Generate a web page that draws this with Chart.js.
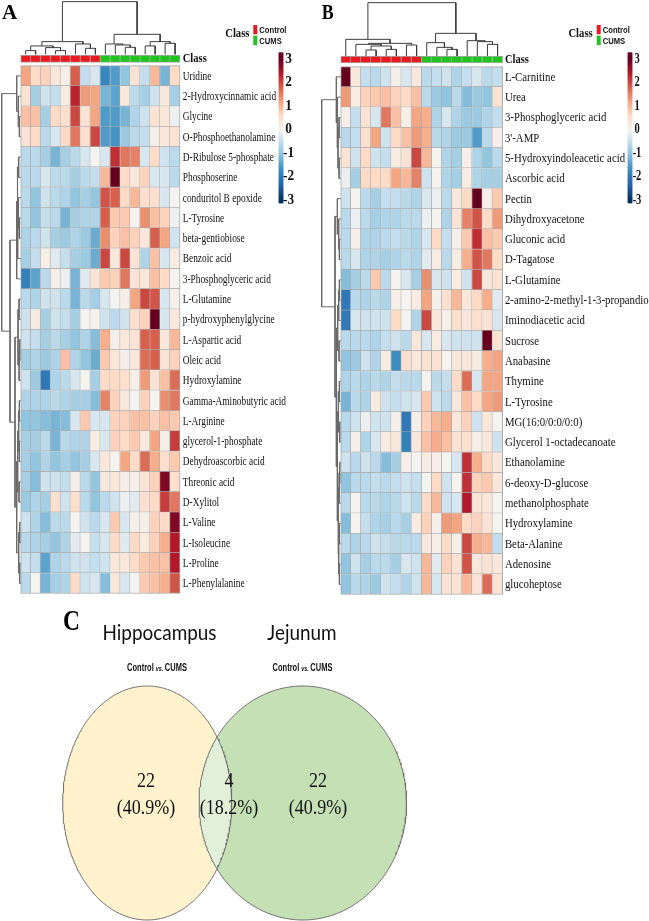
<!DOCTYPE html>
<html><head><meta charset="utf-8">
<script src="https://cdn.jsdelivr.net/npm/chart.js@4.4.1/dist/chart.umd.min.js"></script>
<style>
html,body{margin:0;padding:0;background:#fff;}
#wrap{position:relative;width:649px;height:921px;overflow:hidden;background:#fff;}
canvas{position:absolute;}
</style></head><body>
<div id="wrap">
<canvas id="cA" width="320" height="600" style="left:0;top:0;width:320px;height:600px"></canvas>
<canvas id="cB" width="329" height="600" style="left:320px;top:0;width:329px;height:600px"></canvas>
<canvas id="cC" width="649" height="321" style="left:0;top:600px;width:649px;height:321px"></canvas>
</div>
<script>
// ---------------- DATA ----------------
const GROUPS = ['Control', 'CUMS'];
const SAMPLE_CLASS = ['Control','Control','Control','Control','Control','Control','Control','Control',
                      'CUMS','CUMS','CUMS','CUMS','CUMS','CUMS','CUMS','CUMS'];
const COLORBAR_TICKS = [3, 2, 1, 0, -1, -2, -3];

const A_ROWS = ['Uridine','2-Hydroxycinnamic acid','Glycine','O-Phosphoethanolamine','D-Ribulose 5-phosphate',
  'Phosphoserine','conduritol B epoxide','L-Tyrosine','beta-gentiobiose','Benzoic acid','3-Phosphoglyceric acid',
  'L-Glutamine','p-hydroxyphenylglycine','L-Aspartic acid','Oleic acid','Hydroxylamine','Gamma-Aminobutyric acid',
  'L-Arginine','glycerol-1-phosphate','Dehydroascorbic acid','Threonic acid','D-Xylitol','L-Valine','L-Isoleucine',
  'L-Proline','L-Phenylalanine'];
const A_VALUES = [
  [1.2,0.6,0.7,0.3,0.1,1.8,-0.5,-0.3,-1.8,-1.5,-1.0,0.4,-0.5,1.0,-1.2,0.6],
  [0.4,-0.8,-0.4,-0.5,0.2,2.3,1.3,1.2,-1.2,-1.4,0.3,-0.6,-0.8,-0.4,0.3,-0.8],
  [0.9,0.9,-0.8,0.6,0.5,2.0,0.4,1.2,-1.5,-1.5,-1.2,-0.7,-0.4,0.4,0.3,-0.1],
  [0.4,0.6,-0.6,-0.3,0.6,1.6,0.5,2.0,-1.5,-1.6,-0.9,-0.6,-0.5,0.1,0.3,0.4],
  [-0.6,-0.6,-0.8,-1.2,-0.8,-0.6,-0.3,0.0,-0.3,2.2,1.6,1.5,-0.3,0.6,-0.4,-0.6],
  [-0.6,-0.6,-0.3,-0.6,-0.6,-0.8,-0.6,-0.5,1.0,3.0,0.6,0.3,0.7,-0.3,-0.3,-0.6],
  [-0.6,-1.0,-0.4,-0.6,-0.7,-1.0,-0.8,-1.0,1.9,1.8,0.6,1.0,0.5,0.5,-0.3,0.0],
  [-0.6,-1.0,-0.5,-0.6,-1.2,-0.8,-0.7,-0.7,1.8,0.8,0.8,0.0,1.4,0.9,0.7,-0.1],
  [-0.7,-0.6,-0.4,-0.8,-0.9,-0.7,-0.9,-1.3,1.4,0.7,0.9,0.7,0.3,1.8,1.2,-0.4],
  [-0.8,-0.5,0.1,-0.2,-0.5,-0.8,-0.9,-1.3,2.0,0.3,2.0,0.4,-0.7,0.9,-0.3,0.2],
  [-1.9,-1.4,-0.6,0.1,-0.1,-1.2,-0.2,0.4,0.8,0.7,1.6,0.4,0.3,0.9,0.6,0.0],
  [-0.6,-0.7,-0.4,-0.4,-0.6,-1.2,-0.6,-0.8,-0.3,0.0,0.1,1.2,2.0,1.9,-0.3,0.1],
  [-0.4,0.2,-0.8,-0.4,-0.5,-0.8,0.0,0.0,-0.4,-0.6,-0.4,0.5,0.7,3.0,-0.3,0.3],
  [-0.4,-0.5,-0.8,-0.6,-0.8,-1.0,-0.7,-1.1,1.1,0.1,0.3,0.4,1.8,1.8,0.3,1.0],
  [-0.8,-0.7,-0.9,-0.7,0.9,-0.7,-1.0,-1.3,0.8,0.3,0.1,0.3,1.7,1.8,0.4,0.7],
  [-0.4,-0.9,-2.0,-0.7,-0.6,-0.3,0.0,-0.8,0.6,0.6,0.5,0.1,1.3,0.4,0.9,1.7],
  [-0.7,-0.7,-0.7,-0.6,-0.7,-0.8,-0.8,-1.1,1.5,0.7,0.3,0.0,0.7,0.0,1.4,1.6],
  [-1.0,-1.0,-1.1,-1.2,-1.1,-0.3,0.8,-0.3,-0.3,0.7,0.7,0.9,0.9,0.7,0.9,0.8],
  [-0.8,-0.8,-0.6,-1.2,-0.6,-0.7,-0.7,0.2,-0.3,0.7,0.6,0.8,0.3,1.2,0.1,2.1],
  [-0.8,-1.0,-0.7,-1.0,-0.8,-1.0,-0.8,-0.3,0.3,0.0,1.2,0.6,1.7,1.1,0.5,0.8],
  [-0.8,-1.1,-0.4,-0.4,-0.5,0.1,-0.6,-1.0,0.3,0.3,0.1,0.1,0.4,0.7,2.8,0.5],
  [-0.9,-0.7,-0.8,0.5,-0.4,0.5,-0.6,-1.0,-0.6,-0.4,-0.1,-0.2,0.5,0.6,2.1,1.6],
  [-0.4,-0.7,-1.1,-0.6,-0.6,0.0,-0.4,-0.6,-0.3,0.8,-0.3,0.1,0.1,0.7,0.6,2.8],
  [-0.6,-0.7,-0.8,-1.0,-0.7,-0.2,0.0,-0.5,-0.3,0.6,-0.2,0.6,0.2,0.7,1.1,2.4],
  [-0.4,-0.5,-1.4,-0.7,-0.6,-0.4,-0.4,-0.5,-0.4,0.3,0.3,0.6,0.8,0.9,0.9,2.4],
  [-0.6,0.0,-1.2,-0.8,-0.7,0.6,-0.4,-0.3,-1.1,0.3,-0.3,0.0,0.8,0.9,1.1,1.9]
];
// dendrogram merges: [childA, childB, height]; negative = leaf (1-based), positive = earlier merge (1-based)
const A_COL_MERGES = [[-1,-2,11],[-4,-5,11],[-3,2,20],[1,3,25],[-7,-8,18],[-6,5,31],[4,6,38],
  [-11,-12,21],[-10,8,28],[-9,9,31],[-13,-14,25],[-15,-16,33],[11,12,38],[10,13,60],[7,14,158]];
const A_ROW_MERGES = [[-3,-4,4],[-2,1,7],[-1,2,12],
  [-5,-6,6],[-8,-9,4],[-7,5,7],[6,-10,9],[4,7,10],[8,-11,12],
  [-12,-13,5],[-14,-15,3],[11,-16,5],[10,12,8],[-17,-18,4],[-19,-20,4],[14,15,6],[-21,-22,5],[16,17,9],
  [-23,-24,3],[-25,-26,3],[19,20,6],[18,21,12],[13,22,17],[9,23,32],[3,24,57]];

const B_ROWS = ['L-Carnitine','Urea','3-Phosphoglyceric acid',"3'-AMP",'5-Hydroxyindoleacetic acid','Ascorbic acid',
  'Pectin','Dihydroxyacetone','Gluconic acid','D-Tagatose','L-Glutamine','2-amino-2-methyl-1-3-propandio',
  'Iminodiacetic acid','Sucrose','Anabasine','Thymine','L-Tyrosine','MG(16:0/0:0/0:0)','Glycerol 1-octadecanoate',
  'Ethanolamine','6-deoxy-D-glucose','methanolphosphate','Hydroxylamine','Beta-Alanine','Adenosine','glucoheptose'];
const B_VALUES = [
  [3.0,0.3,-0.5,-0.6,-0.4,0.1,-0.3,0.3,-0.6,-0.5,-0.4,-0.7,-0.5,-0.3,-0.6,-0.5],
  [1.3,0.2,0.7,0.8,0.9,0.7,0.6,0.9,-0.6,-0.9,-1.0,-0.6,-1.1,-0.9,-1.0,0.4],
  [0.1,-0.5,0.4,-0.3,1.6,0.9,0.1,1.2,1.1,-0.7,-0.3,-0.7,-0.9,-0.9,-0.7,-0.5],
  [-0.6,-0.5,0.5,1.2,-0.4,0.6,0.9,1.3,1.1,-0.6,-0.7,-0.9,-0.9,-1.5,-0.6,0.1],
  [0.4,-0.4,0.6,-0.4,-0.5,0.2,0.4,2.0,1.0,0.0,-0.7,-0.8,0.1,-0.7,-1.0,-0.6],
  [-0.1,-0.8,0.6,0.6,0.6,1.2,1.0,1.5,-0.4,0.0,-0.7,-0.8,0.2,-0.7,-0.8,-0.8],
  [-0.4,0.0,-0.6,-0.8,-0.5,-0.5,-0.6,-0.7,-0.3,-0.1,-0.6,0.3,0.6,3.0,0.1,0.8],
  [-0.6,-0.1,-0.6,-0.8,-0.7,-0.7,-0.6,-0.6,-0.1,0.0,-0.7,0.4,1.5,1.9,0.6,1.3],
  [-0.6,0.1,-0.7,-0.7,-0.6,-0.5,-0.6,-0.7,-0.3,0.6,-0.5,0.1,0.8,2.2,0.9,0.8],
  [-0.6,-0.3,-0.7,-0.7,-0.8,-0.7,-0.6,-0.7,-0.2,0.2,-0.6,0.2,1.1,1.9,1.6,0.6],
  [-1.1,-0.8,-0.6,0.8,-0.6,0.0,-0.3,-0.8,1.4,-0.3,-0.4,0.2,-0.4,2.0,0.3,0.4],
  [-2.0,-0.6,-0.7,-0.6,-0.7,0.1,0.0,0.2,1.2,0.1,0.5,1.0,0.3,0.6,1.1,-0.2],
  [-2.0,-0.3,-0.4,-0.4,-0.4,0.6,0.0,-0.7,2.0,0.3,0.1,0.5,0.3,0.5,0.4,-0.3],
  [-0.6,-0.6,-0.6,-0.7,-0.5,-0.4,-0.6,0.3,-0.3,0.2,-0.3,-0.4,-0.4,-0.4,3.0,0.4],
  [-1.0,-0.9,-0.4,-0.7,0.2,-1.7,0.5,0.3,0.4,0.4,0.0,0.3,0.3,0.2,1.1,1.2],
  [-0.7,-0.6,-0.7,-0.6,-0.7,-0.5,-0.6,-0.6,0.0,-0.6,-0.5,0.6,1.7,-0.3,1.2,1.2],
  [-1.2,-0.6,-0.7,0.2,-0.4,-0.5,-0.4,-0.3,0.8,-0.4,-0.6,0.3,0.9,0.6,1.2,1.3],
  [-0.6,-0.4,-0.1,-0.4,-0.4,0.1,-2.0,0.1,0.7,1.0,1.1,0.3,0.7,-0.4,0.3,0.0],
  [-0.6,0.1,-0.7,-0.3,0.2,0.3,-1.9,0.3,0.9,1.1,0.9,0.4,0.5,0.1,0.3,-0.4],
  [-0.4,-0.6,-0.4,-0.6,-1.1,-0.8,0.1,0.0,0.2,0.1,0.0,-0.3,2.2,1.1,0.6,0.3],
  [-1.0,-0.6,-0.6,-0.5,-0.6,-0.5,-0.4,-0.5,0.0,0.6,-0.4,0.0,2.2,0.7,0.8,0.3],
  [-0.6,0.0,-0.6,-0.6,-0.7,-0.6,-0.4,-0.6,0.6,1.0,-0.4,-0.3,2.4,0.4,0.3,0.0],
  [-1.1,0.0,-0.5,-0.7,-0.8,-0.6,-0.8,0.2,0.7,0.1,1.3,1.2,0.6,0.7,0.4,0.0],
  [-0.6,-0.7,-0.6,-0.4,-0.5,-0.6,-0.6,-0.6,0.3,0.1,0.6,0.1,2.0,1.1,1.0,-0.5],
  [-1.0,-0.4,-0.8,-0.6,-0.6,-0.8,-0.3,-0.4,1.0,-0.2,0.7,0.4,1.9,0.3,0.4,0.3],
  [-1.0,-0.6,-0.7,-0.9,-0.4,-0.5,-0.7,-0.4,1.0,-0.3,0.4,0.4,1.0,0.4,1.7,0.4]
];
const B_COL_MERGES = [[-3,-4,18],[-5,-6,20],[1,2,30],[-2,3,35],[-7,-8,33],[4,5,38],[-1,6,50],
  [-11,-12,20],[-10,8,26],[-9,9,40],[-15,-16,35],[-14,11,43],[-13,12,46],[10,13,68],[7,14,160]];
const B_ROW_MERGES = [[-3,-4,5],[-5,-6,5],[1,2,8],[-2,3,10],[-1,4,13],
  [-9,-10,4],[-8,6,6],[-7,7,10],
  [-11,-12,4],[9,-13,6],[-14,-15,5],[10,11,9],[-16,-17,4],[-18,-19,3],[13,14,7],[-20,-21,3],[16,-22,5],
  [-23,-24,4],[-25,-26,4],[18,19,6],[17,20,8],[15,21,10],[12,22,13],[8,23,17],[5,24,57]];

const VENN_SETS = ['Hippocampus', 'Jejunum'];
const VENN_SUBTITLE = ['Control', 'vs.', 'CUMS'];
const VENN_COUNTS = [22, 4, 22];          // left only, both, right only
const VENN_PERCENTS = ['(40.9%)', '(18.2%)', '(40.9%)'];

// ---------------- STYLE / LAYOUT ----------------
// colour ramp: [value, colour]
const RAMP = [[-3,'#053061'],[-2.3,'#2166ac'],[-1.6,'#4393c3'],[-1.0,'#92c5de'],[-0.45,'#c9e1ee'],[0,'#f5f3f0'],
              [0.6,'#fddbc7'],[1.2,'#f4a582'],[1.8,'#d6604d'],[2.4,'#b2182b'],[3,'#67001f']];
const CLASS_COLORS = {Control: '#e8191f', CUMS: '#1fc41f'};
const GRID = '#a9a9a9';
const DENDRO_COL = '#3c3c3c';
const DENDRO_ROW = '#6a6a6a';
const SERIF = '"Liberation Serif", "Times New Roman", serif';
const SANS = '"Liberation Sans", Arial, sans-serif';

const LAYOUT_A = {W:320,H:600,x0:20.7,cw:9.96,y0:65.7,rh:20.3,classTop:55,classBot:62.3,colLeaf:54.3,rowLeaf:20.7,dUnit:1/3,
  cbX:281,cbW:4,cbTop:59,cbBot:200,cbRange:[-3.13,3.26],cbLabelX:288.5,cbSx:0.95,labelGap:2.7,labelSx:0.72,
  legClassX:249.5,legSqX:253.3,legTextX:259.3,letter:'A',letterX:2,letterSx:1.0};
const LAYOUT_B = {W:329,H:600,x0:20.7,cw:10.12,y0:66.7,rh:20.3,classTop:56,classBot:63,colLeaf:56,rowLeaf:20.7,dUnit:1/3,
  cbX:310,cbW:4,cbTop:59,cbBot:200,cbRange:[-3.13,3.26],cbLabelX:317,cbSx:0.75,labelGap:2.3,labelSx:0.83,
  legClassX:272.7,legSqX:276.7,legTextX:282.7,letter:'B',letterX:1.7,letterSx:0.85};

const VENN_LAYOUT = {W:649,H:321,
  left:{cx:147.2,cy:203,rx:84.5,ry:117}, right:{cx:302.8,cy:203,rx:103.8,ry:117},
  labelX:[146,229,318], countY:181, pctY:208, titleX:[159.5,302], titleY:33, subX:[157,302.5], subY:68,
  letterX:63, letterY:22};

// ---------------- HELPERS ----------------
const RAMP_RGB = RAMP.map(([v,h]) => [v, [1,3,5].map(i => parseInt(h.slice(i,i+2),16))]);
function heatColor(v){
  v = Math.max(-3, Math.min(3, v));
  let i = 0;
  while (i < RAMP_RGB.length - 2 && v > RAMP_RGB[i+1][0]) i++;
  const [v0, a] = RAMP_RGB[i], [v1, b] = RAMP_RGB[i+1];
  const f = (v - v0) / (v1 - v0);
  return 'rgb(' + a.map((c,k) => Math.round(c + (b[k]-c)*f)).join(',') + ')';
}
function drawText(ctx, s, x, y, font, color, align, sx){
  ctx.save(); ctx.font = font; ctx.fillStyle = color; ctx.textBaseline = 'middle'; ctx.textAlign = align;
  ctx.translate(x, y); ctx.scale(sx, 1); ctx.fillText(s, 0, 0); ctx.restore();
}
function dendroSegments(merges){
  const pos = [], hgt = [], segs = [];
  const P = k => k < 0 ? (-k - 0.5) : pos[k-1];
  const H = k => k < 0 ? 0 : hgt[k-1];
  merges.forEach(([a,b,h], i) => {
    const pa = P(a), pb = P(b);
    pos[i] = (pa + pb) / 2; hgt[i] = h;
    segs.push([[pa, H(a)], [pa, h], [pb, h], [pb, H(b)]]);
  });
  return segs;
}
function segPoints(segs, orient){
  const pts = [];
  segs.forEach(s => { s.forEach(([p,h]) => pts.push(orient === 'col' ? {x:p, y:h} : {x:h, y:p})); pts.push({x:null, y:null}); });
  return pts;
}

function buildHeatmap(canvasId, rows, values, colMerges, rowMerges, L){
  const nC = values[0].length;
  const cells = [];
  values.forEach((row, r) => row.forEach((v, c) => cells.push({x: c + 0.5, y: [r, r + 1], v, r, c})));
  const cTop = (L.classTop - L.y0) / L.rh, cBot = (L.classBot - L.y0) / L.rh;
  const classCells = SAMPLE_CLASS.map((g, c) => ({x: c + 0.5, y: [cTop, cBot], g, c}));
  const cbStep = 0.05, cbCells = [];
  for (let v = L.cbRange[0]; v < L.cbRange[1]; v += cbStep) cbCells.push({x: (L.cbX - L.x0) / L.cw, y: [v, v + cbStep], v: v + cbStep/2});
  const k = (L.cbBot - L.cbTop) / 6;
  const ycbMax = 3 + L.cbTop / k;

  const textPlugin = {
    id: 'heatText' + canvasId,
    afterDraw(chart){
      const ctx = chart.ctx, sx = chart.scales.x, sy = chart.scales.y, scb = chart.scales.ycb;
      const lx = sx.getPixelForValue(nC) + L.labelGap;
      rows.forEach((lab, r) => drawText(ctx, lab, lx, sy.getPixelForValue(r + 0.5) + 0.5, '13px ' + SERIF, '#111', 'left', L.labelSx));
      drawText(ctx, 'Class', lx, sy.getPixelForValue((cTop + cBot) / 2), 'bold 13px ' + SERIF, '#111', 'left', 0.81);
      COLORBAR_TICKS.forEach(t => drawText(ctx, String(t), L.cbLabelX, scb.getPixelForValue(t), 'bold 14px ' + SERIF, '#111', 'center', L.cbSx));
      drawText(ctx, 'Class', L.legClassX, 34, 'bold 13px ' + SERIF, '#111', 'right', 0.82);
      GROUPS.forEach((g, i) => {
        ctx.fillStyle = CLASS_COLORS[g];
        ctx.fillRect(L.legSqX, 25 + i * 10.7, 4, 9.3);
        drawText(ctx, g, L.legTextX, 30.5 + i * 11, 'bold 9px ' + SANS, '#111', 'left', 0.85);
      });
      drawText(ctx, L.letter, L.letterX, 14, 'bold 21px ' + SERIF, '#000', 'left', L.letterSx);
    }
  };

  new Chart(document.getElementById(canvasId), {
    type: 'bar',
    data: { datasets: [
      { type: 'line', data: segPoints(dendroSegments(colMerges), 'col'), xAxisID: 'x', yAxisID: 'yd',
        borderColor: DENDRO_COL, borderWidth: 1, pointRadius: 0, fill: false, tension: 0, spanGaps: false, order: 0 },
      { type: 'line', data: segPoints(dendroSegments(rowMerges), 'row'), xAxisID: 'xd', yAxisID: 'y',
        borderColor: DENDRO_ROW, borderWidth: 1, pointRadius: 0, fill: false, tension: 0, spanGaps: false, order: 0 },
      { data: cells, xAxisID: 'x', yAxisID: 'y', grouped: false, barThickness: L.cw, borderSkipped: false,
        backgroundColor: c => c.raw ? heatColor(c.raw.v) : '#fff', borderColor: GRID,
        borderWidth: c => c.raw ? {top: c.raw.r === 0 ? 1 : 0, left: c.raw.c === 0 ? 1 : 0, right: 1, bottom: 1} : 1, order: 2 },
      { data: classCells, xAxisID: 'x', yAxisID: 'y', grouped: false, barThickness: L.cw, borderSkipped: false,
        backgroundColor: c => c.raw ? CLASS_COLORS[c.raw.g] : '#fff', borderColor: GRID,
        borderWidth: c => c.raw ? {top: 1, left: c.raw.c === 0 ? 1 : 0, right: 1, bottom: 1} : 1, order: 2 },
      { data: cbCells, xAxisID: 'x', yAxisID: 'ycb', grouped: false, barThickness: L.cbW, borderSkipped: false,
        backgroundColor: c => c.raw ? heatColor(c.raw.v) : '#fff', borderWidth: 0, order: 2 }
    ]},
    options: {
      responsive: false, animation: false, events: [], devicePixelRatio: 1,
      layout: { padding: 0 },
      plugins: { legend: { display: false }, tooltip: { enabled: false } },
      scales: {
        x:   { type: 'linear', display: false, offset: false, min: -L.x0 / L.cw, max: (L.W - L.x0) / L.cw },
        y:   { type: 'linear', display: false, offset: false, reverse: true, min: -L.y0 / L.rh, max: (L.H - L.y0) / L.rh },
        yd:  { type: 'linear', display: false, offset: false, axis: 'y', min: L.colLeaf / L.dUnit - L.H / L.dUnit, max: L.colLeaf / L.dUnit },
        xd:  { type: 'linear', display: false, offset: false, axis: 'x', reverse: true, min: L.rowLeaf / L.dUnit - L.W / L.dUnit, max: L.rowLeaf / L.dUnit },
        ycb: { type: 'linear', display: false, offset: false, axis: 'y', min: ycbMax - L.H / k, max: ycbMax }
      }
    },
    plugins: [textPlugin]
  });
}

buildHeatmap('cA', A_ROWS, A_VALUES, A_COL_MERGES, A_ROW_MERGES, LAYOUT_A);
buildHeatmap('cB', B_ROWS, B_VALUES, B_COL_MERGES, B_ROW_MERGES, LAYOUT_B);

// ---------------- VENN ----------------
(function(){
  const V = VENN_LAYOUT, N = 360;
  const ell = (e, t) => ({x: e.cx + e.rx * Math.cos(t), y: e.cy + e.ry * Math.sin(t)});
  const inside = (e, p) => ((p.x - e.cx) / e.rx) ** 2 + ((p.y - e.cy) / e.ry) ** 2 <= 1;
  const ring = e => { const a = []; for (let i = 0; i <= N; i++) a.push(ell(e, 2 * Math.PI * i / N)); return a; };
  const lens = [];
  for (let i = 0; i <= N; i++) { const p = ell(V.left, -Math.PI + 2 * Math.PI * i / N); if (inside(V.right, p)) lens.push(p); }
  for (let i = 0; i <= N; i++) { const p = ell(V.right, 2 * Math.PI * i / N); if (inside(V.left, p)) lens.push(p); }
  lens.push(lens[0]);

  const vennText = {
    id: 'vennText',
    afterDraw(chart){
      const ctx = chart.ctx, sx = chart.scales.x, sy = chart.scales.y;
      drawText(ctx, 'C', sx.getPixelForValue(V.letterX), sy.getPixelForValue(V.letterY), 'bold 30px ' + SERIF, '#000', 'left', 0.78);
      VENN_SETS.forEach((s, i) => {
        drawText(ctx, s, sx.getPixelForValue(V.titleX[i]), sy.getPixelForValue(V.titleY), '21px Lato, "Open Sans", sans-serif', '#111', 'center', 0.9);
        const parts = [[VENN_SUBTITLE[0] + ' ', 'bold 11px ' + SANS], [VENN_SUBTITLE[1] + ' ', 'italic bold 8px ' + SANS], [VENN_SUBTITLE[2], 'bold 11px ' + SANS]];
        const sc = 0.68;
        let tot = 0; parts.forEach(p => { ctx.font = p[1]; tot += ctx.measureText(p[0]).width * sc; });
        let x = sx.getPixelForValue(V.subX[i]) - tot / 2;
        const y = sy.getPixelForValue(V.subY);
        parts.forEach(p => { drawText(ctx, p[0], x, y + (p[1].indexOf('8px') > 0 ? 1 : 0), p[1], '#111', 'left', sc); ctx.font = p[1]; x += ctx.measureText(p[0]).width * sc; });
      });
      VENN_COUNTS.forEach((c, i) => {
        drawText(ctx, String(c), sx.getPixelForValue(V.labelX[i]), sy.getPixelForValue(V.countY), '22px ' + SERIF, '#111', 'center', 0.82);
        drawText(ctx, VENN_PERCENTS[i], sx.getPixelForValue(V.labelX[i]), sy.getPixelForValue(V.pctY), '22px ' + SERIF, '#111', 'center', 0.82);
      });
    }
  };

  new Chart(document.getElementById('cC'), {
    type: 'line',
    data: { datasets: [
      { data: ring(V.left), borderColor: '#6f6f6f', borderWidth: 1, fill: false, order: 1 },
      { data: ring(V.right), borderColor: '#6f6f6f', borderWidth: 1, fill: false, order: 2 },
      { data: lens, showLine: false, backgroundColor: '#e2f0d9', fill: 'shape', order: 3 },
      { data: ring(V.right), showLine: false, backgroundColor: '#c5e0b4', fill: 'shape', order: 4 },
      { data: ring(V.left), showLine: false, backgroundColor: '#fff2cc', fill: 'shape', order: 5 }
    ]},
    options: {
      responsive: false, animation: false, events: [], devicePixelRatio: 1,
      layout: { padding: 0 },
      elements: { point: { radius: 0 }, line: { tension: 0 } },
      plugins: { legend: { display: false }, tooltip: { enabled: false } },
      scales: {
        x: { type: 'linear', display: false, offset: false, min: 0, max: V.W },
        y: { type: 'linear', display: false, offset: false, reverse: true, min: 0, max: V.H }
      }
    },
    plugins: [vennText]
  });
})();
</script>
</body></html>
